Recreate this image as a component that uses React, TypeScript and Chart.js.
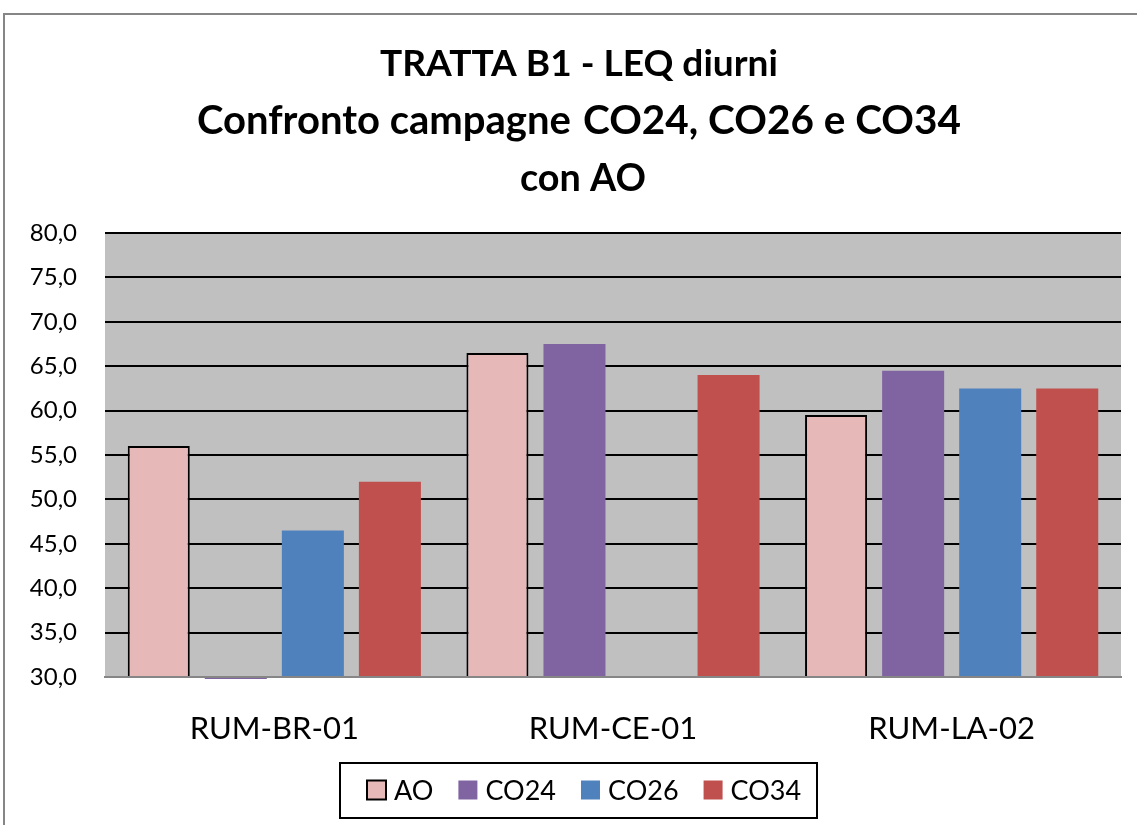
import React, { useEffect, useRef } from 'react';
import { Chart, registerables } from 'chart.js';

Chart.register(...registerables);

const categories = ['RUM-BR-01', 'RUM-CE-01', 'RUM-LA-02'];
const seriesNames = ['AO', 'CO24', 'CO26', 'CO34'];
const aoValues = [56.0, 66.5, 59.5];
const co24Values = [0, 67.5, 64.5];
const co26Values = [46.5, null, 62.5];
const co34Values = [52.0, 64.0, 62.5];
const yMin = 30;
const yMax = 80;
const yStep = 5;

const titleLine1 = 'TRATTA B1 - LEQ diurni';
const titleLine2a = 'Confronto campagne';
const titleLine2b = 'CO24, CO26 e CO34';
const titleLine3 = 'con AO';

const FONT = 'Lato, "Open Sans", sans-serif';
const CENTER_X = 579;

function fitFont(ctx: CanvasRenderingContext2D, text: string, target: number) {
  ctx.font = `bold 100px ${FONT}`;
  const w = ctx.measureText(text).width;
  const size = (100 * target) / w;
  return `bold ${size.toFixed(2)}px ${FONT}`;
}

const framePlugin = {
  id: 'frame',
  beforeDraw(chart: any) {
    const { ctx, chartArea: a } = chart;
    ctx.save();
    ctx.fillStyle = '#ffffff';
    ctx.fillRect(0, 0, chart.width, chart.height);
    ctx.strokeStyle = '#868686';
    ctx.lineWidth = 2;
    ctx.strokeRect(4, 14, chart.width + 40, chart.height + 40);
    ctx.fillStyle = '#C0C0C0';
    ctx.fillRect(a.left, a.top, a.right - a.left, a.bottom - a.top);

    // title
    ctx.fillStyle = '#000000';
    ctx.textBaseline = 'alphabetic';
    ctx.textAlign = 'left';
    const f1 = fitFont(ctx, titleLine1, 398);
    ctx.font = f1;
    ctx.fillText(titleLine1, CENTER_X - 199, 76);

    const f2a = fitFont(ctx, titleLine2a, 374);
    const f2b = fitFont(ctx, titleLine2b, 378);
    const gap = 12;
    const start2 = CENTER_X - (374 + gap + 378) / 2;
    ctx.font = f2a;
    ctx.fillText(titleLine2a, start2, 134);
    ctx.font = f2b;
    ctx.fillText(titleLine2b, start2 + 374 + gap, 134);

    const f3 = fitFont(ctx, titleLine3, 126);
    ctx.font = f3;
    ctx.fillText(titleLine3, CENTER_X + 4 - 63, 191);
    ctx.restore();
  },
  afterDraw(chart: any) {
    const { ctx } = chart;
    ctx.save();
    ctx.font = `27px ${FONT}`;
    const box = 19;
    const gapText = 8;
    const gapItem = 25;
    const items = chart.data.datasets.map((ds: any) => ({
      label: ds.label,
      fill: ds.backgroundColor,
      border: ds.borderWidth > 0 ? ds.borderColor : null,
      tw: ctx.measureText(ds.label).width,
    }));
    let total = 0;
    items.forEach((it: any, i: number) => {
      total += box + gapText + it.tw + (i < items.length - 1 ? gapItem : 0);
    });
    const rowY = 790;
    const startX = Math.round(CENTER_X + 5 - total / 2);
    let x = startX;
    ctx.strokeStyle = '#000000';
    ctx.lineWidth = 2;
    ctx.strokeRect(startX - 27, 763, Math.round(total + 27 + 16), 55);
    ctx.textBaseline = 'middle';
    ctx.textAlign = 'left';
    items.forEach((it: any) => {
      ctx.fillStyle = it.fill;
      ctx.fillRect(x, rowY - box / 2, box, box);
      if (it.border) {
        ctx.strokeStyle = it.border;
        ctx.lineWidth = 2;
        ctx.strokeRect(x, rowY - box / 2, box, box);
      }
      ctx.fillStyle = '#000000';
      ctx.fillText(it.label, x + box + gapText, rowY + 1);
      x += box + gapText + it.tw + gapItem;
    });
    ctx.restore();
  },
};

export default function App() {
  const ref = useRef<HTMLCanvasElement | null>(null);

  useEffect(() => {
    if (!ref.current) return;
    const chart = new Chart(ref.current, {
      type: 'bar',
      data: {
        labels: categories,
        datasets: [
          {
            label: seriesNames[0],
            data: aoValues,
            backgroundColor: '#E6B9B8',
            borderColor: '#000000',
            borderWidth: 2,
          },
          {
            label: seriesNames[1],
            data: co24Values,
            backgroundColor: '#8064A2',
            borderWidth: 0,
            clip: { left: false, right: false, top: false, bottom: 2 },
          },
          {
            label: seriesNames[2],
            data: co26Values,
            backgroundColor: '#4F81BD',
            borderWidth: 0,
          },
          {
            label: seriesNames[3],
            data: co34Values,
            backgroundColor: '#C0504D',
            borderWidth: 0,
          },
        ] as any,
      },
      options: {
        responsive: false,
        animation: false,
        datasets: {
          bar: {
            categoryPercentage: 0.91,
            barPercentage: 0.805,
            base: yMin,
          } as any,
        },
        layout: {
          padding: { top: 233, right: 16, bottom: 68, left: 0 },
        },
        plugins: {
          legend: { display: false },
          title: { display: false },
          tooltip: { enabled: false },
        },
        scales: {
          x: {
            grid: { display: false },
            border: { display: true, color: '#868686', width: 2 },
            ticks: {
              color: '#000000',
              font: { family: FONT, size: 31 },
              padding: 25,
            },
            afterFit(scale: any) {
              scale.height = 80;
            },
          },
          y: {
            min: yMin,
            max: yMax,
            beginAtZero: false,
            border: { display: false },
            grid: {
              color: (c: any) => (c.tick && c.tick.value === yMin ? '#868686' : '#000000'),
              lineWidth: 2,
              drawTicks: false,
            },
            ticks: {
              stepSize: yStep,
              color: '#000000',
              font: { family: FONT, size: 24 },
              padding: 28,
              callback: (v: any) => Number(v).toFixed(1).replace('.', ','),
            },
            afterFit(scale: any) {
              scale.width = 105;
            },
          },
        },
      },
      plugins: [framePlugin],
    });
    return () => chart.destroy();
  }, []);

  return (
    <div style={{ position: 'absolute', left: 0, top: 0, width: 1137, height: 825 }}>
      <canvas ref={ref} width={1137} height={825} style={{ display: 'block' }} />
    </div>
  );
}
